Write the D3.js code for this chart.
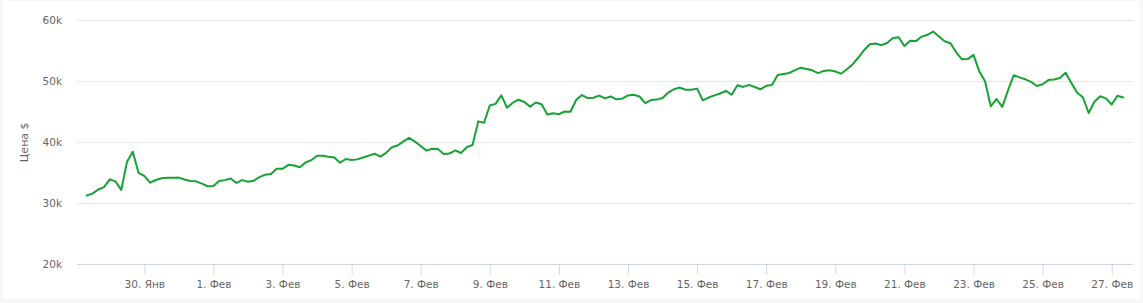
<!DOCTYPE html>
<html>
<head>
<meta charset="utf-8">
<script src="https://cdn.jsdelivr.net/npm/d3@7"></script>
<style>
  body { margin: 0; background: #f7f7f7; }
  svg { display: block; font-family: "DejaVu Sans", Verdana, sans-serif; }
</style>
</head>
<body>
<svg class="chart" width="1143" height="303"></svg>
<script>
// price every 4 hours, from 28 Jan 2021 08:00 (UTC) on
var startTime = Date.UTC(2021, 0, 28, 8)
var stepHours = 4
var prices = [
  31280, 31590, 32260, 32640, 33920, 33590, 32200, 36800, 38460, 35000,
  34490, 33380, 33820, 34110, 34180, 34200, 34210, 33900, 33660, 33600,
  33230, 32790, 32840, 33660, 33800, 34070, 33340, 33800, 33540, 33700,
  34300, 34700, 34790, 35670, 35650, 36310, 36200, 35900, 36690, 37070,
  37790, 37800, 37620, 37490, 36660, 37260, 37100, 37200, 37510, 37820,
  38130, 37660, 38280, 39180, 39480, 40150, 40720, 40110, 39390, 38640,
  38950, 38900, 38070, 38150, 38690, 38250, 39200, 39560, 43430, 43200,
  46030, 46300, 47700, 45670, 46490, 46980, 46610, 45850, 46520, 46250,
  44560, 44770, 44600, 45050, 45000, 46930, 47750, 47260, 47300, 47660,
  47200, 47520, 47050, 47160, 47690, 47800, 47510, 46410, 46930, 47000,
  47260, 48160, 48700, 48970, 48610, 48600, 48800, 46870, 47340, 47700,
  48000, 48430, 47800, 49340, 49080, 49410, 49070, 48690, 49260, 49390,
  51020, 51200, 51360, 51820, 52230, 52030, 51800, 51340, 51700, 51800,
  51610, 51250, 51980, 52770, 53900, 55100, 56070, 56200, 55920, 56280,
  57110, 57210, 55790, 56640, 56590, 57330, 57620, 58160, 57360, 56560,
  56230, 54750, 53610, 53640, 54330, 51640, 50020, 45900, 47100, 45800,
  48540, 51000, 50640, 50330, 49900, 49230, 49510, 50200, 50310, 50540,
  51400, 49720, 48110, 47380, 44800, 46660, 47540, 47200, 46200, 47620,
  47340
]
var tickDates = ['2021-01-30', '2021-02-01', '2021-02-03', '2021-02-05', '2021-02-07',
  '2021-02-09', '2021-02-11', '2021-02-13', '2021-02-15', '2021-02-17', '2021-02-19',
  '2021-02-21', '2021-02-23', '2021-02-25', '2021-02-27']
var monthNames = ['Янв', 'Фев']
var yTicks = [20000, 30000, 40000, 50000, 60000]
var yTitle = 'Цена $'

var data = prices.map(function(p, i) {
  return { date: new Date(startTime + i * stepHours * 3600000), price: p }
})

const svg = d3.select('.chart')
const plotLeft = 77
const plotRight = 1133
const plotTop = 20.3
const plotBottom = 264.3

// white chart box
svg.append('rect')
  .attr('x', 3).attr('y', 1)
  .attr('width', 1137).attr('height', 298)
  .attr('fill', '#fff')

const xScale = d3.scaleUtc()
  .domain([new Date('2021-01-30T00:00Z'), new Date('2021-02-27T00:00Z')])
  .range([144.3, 1111.7])

const yScale = d3.scaleLinear()
  .domain([20000, 60000])
  .range([plotBottom, plotTop])

// horizontal grid
svg.append('g')
  .selectAll('line')
  .data(yTicks)
  .enter()
  .append('line')
  .attr('x1', plotLeft)
  .attr('x2', plotRight)
  .attr('y1', d => Math.round(yScale(d)) + 0.5)
  .attr('y2', d => Math.round(yScale(d)) + 0.5)
  .attr('stroke', '#e6e6e6')

// y labels
svg.append('g')
  .selectAll('text')
  .data(yTicks)
  .enter()
  .append('text')
  .attr('x', 62)
  .attr('y', d => yScale(d))
  .attr('dy', '0.35em')
  .attr('text-anchor', 'end')
  .attr('fill', '#666')
  .style('font-size', '10.5px')
  .text(d => d / 1000 + 'k')

svg.append('text')
  .attr('transform', 'translate(28,' + (plotTop + plotBottom) / 2 + ') rotate(-90)')
  .attr('text-anchor', 'middle')
  .attr('fill', '#666')
  .style('font-size', '11px')
  .text(yTitle)

// x axis
const xAxis = svg.append('g')
  .attr('transform', 'translate(0,' + (Math.round(plotBottom) + 0.5) + ')')
  .call(d3.axisBottom(xScale)
    .tickValues(tickDates.map(d => new Date(d + 'T00:00Z')))
    .tickSize(10)
    .tickPadding(6)
    .tickFormat(d => d.getUTCDate() + '. ' + monthNames[d.getUTCMonth()]))
xAxis.select('.domain').remove()
xAxis.selectAll('.tick line').attr('stroke', '#ccd6eb')
xAxis.selectAll('.tick text')
  .attr('fill', '#666')
  .style('font-size', '10.5px')
  .style('font-family', '"DejaVu Sans", Verdana, sans-serif')

svg.append('line')
  .attr('x1', plotLeft).attr('x2', plotRight)
  .attr('y1', Math.round(plotBottom) + 0.5).attr('y2', Math.round(plotBottom) + 0.5)
  .attr('stroke', '#ccd6eb')

// price line
const line = d3.line()
  .x(d => xScale(d.date))
  .y(d => yScale(d.price))

svg.append('path')
  .datum(data)
  .attr('d', line)
  .attr('fill', 'none')
  .attr('stroke', '#17a236')
  .attr('stroke-width', 2)
  .attr('stroke-linejoin', 'round')
  .attr('stroke-linecap', 'round')
</script>
</body>
</html>
